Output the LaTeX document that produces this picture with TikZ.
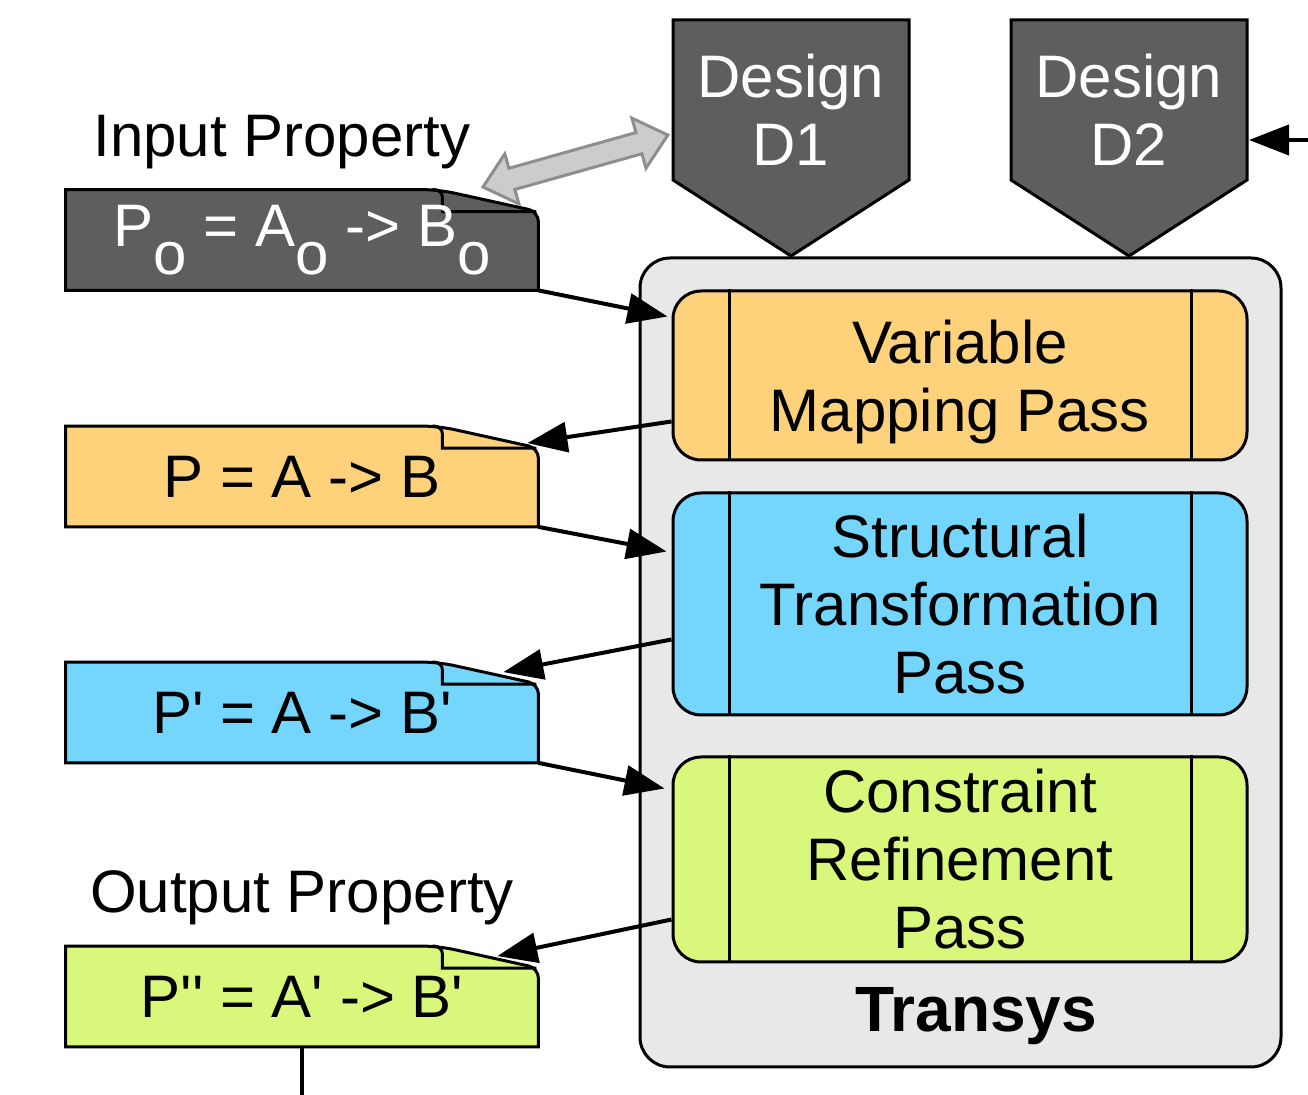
\documentclass[tikz,border=0pt]{standalone}
\usepackage{fontspec}
\setmainfont{Liberation Sans}
\usetikzlibrary{arrows.meta,calc,backgrounds}

\definecolor{docgray}{HTML}{5E5E5E}
\definecolor{passorange}{HTML}{FED17B}
\definecolor{passblue}{HTML}{74D6FD}
\definecolor{passgreen}{HTML}{D9F87B}
\definecolor{boxgray}{HTML}{E8E8E8}
\definecolor{linkgray}{HTML}{CCCCCC}
\definecolor{linkedge}{HTML}{8E8E8E}

\newcommand{\prm}{\textquotesingle}
\newcommand{\lowo}{\raisebox{-14pt}{o}}

% property note: box with a turned-down corner, drawn behind the node
\newcommand{\foldnote}[2]{%
  \begin{pgfonlayer}{background}
    \filldraw[fill=#2, line width=1.5pt] (#1.north west) [rounded corners=8pt]-- ($(#1.north east)+(-100,0)$) [rounded corners=5pt]-- ($(#1.north east)+(0,22)$) [sharp corners]-- (#1.south east) -- (#1.south west) -- cycle;
    \draw[line width=1.5pt, rounded corners=4pt] ($(#1.north east)+(-106,0)$) -- ($(#1.north east)+(-96,0)$) [sharp corners]-- ($(#1.north east)+(-96,22)$) -- ($(#1.north east)+(-2,22)$);
  \end{pgfonlayer}}

% the two inner bars of a pass box
\newcommand{\sidebars}[1]{%
  \draw[line width=1.5pt] ($(#1.north west)+(58,0)$) -- ($(#1.south west)+(58,0)$)
                          ($(#1.north east)+(-57,0)$) -- ($(#1.south east)+(-57,0)$);}

\tikzset{
  big/.style={font=\fontsize{30}{34}\selectfont},
  note/.style={big, minimum width=236pt, minimum height=50pt, inner sep=0pt},
  pass/.style={big, draw, line width=1.5pt, rounded corners=14pt, minimum width=287pt, inner sep=0pt, align=center},
  design/.style={fill=docgray, draw=black, line width=1.5pt},
  link/.style={line width=2pt, -{Triangle[length=20pt,width=15pt]}},
}

\begin{document}
\begin{tikzpicture}[x=0.5pt,y=-0.5pt]
\useasboundingbox (0,0) rectangle (1308,1095);

% Transys box
\node[draw, fill=boxgray, line width=1.5pt, rounded corners=15pt, minimum width=320.5pt, minimum height=404.5pt] (transys) at (960.5,662.5) {};
\node[anchor=base, font=\fontsize{32}{34}\selectfont\bfseries] (translabel) at (976,1032) {Transys};

% passes
\node[pass, fill=passorange, minimum height=84.5pt] (varmap) at (960,375.5) {Variable\\\raisebox{0pt}[\height][0pt]{Mapping Pass}};
\sidebars{varmap}
\node[pass, fill=passblue, minimum height=111pt] (struct) at (960,604) {Structural\\Transformation\\Pass};
\sidebars{struct}
\node[pass, fill=passgreen, minimum height=102.5pt] (constr) at (960,859.5) {Constraint\\Refinement\\Pass};
\sidebars{constr}

% designs
\draw[design] (673,20) -- (909,20) -- (909,180) -- (791,256) -- (673,180) -- cycle;
\node[big, text=white, align=center] (d1) at (791,110) {Design\\D1};
\draw[design] (1011,20) -- (1247,20) -- (1247,180) -- (1129,256) -- (1011,180) -- cycle;
\node[big, text=white, align=center] (d2) at (1129,110) {Design\\D2};
\coordinate (d2edge) at (1249,140);
\coordinate (d2feed) at (1308,140);
\draw[link] (d2feed) -- (d2edge);

% properties
\node[big, anchor=base] (inlabel) at (282,157) {Input Property};
\node[note, text=white] (inprop) at (302,240) {P\lowo{} = A\lowo{} -> B\lowo};
\foldnote{inprop}{docgray}
\node[note] (pdoc) at (302,476.5) {P = A -> B};
\foldnote{pdoc}{passorange}
\node[note] (pprime) at (302,712.5) {P\prm{} = A -> B\prm};
\foldnote{pprime}{passblue}
\node[big, anchor=base] (outlabel) at (302,913) {Output Property};
\node[note] (pdprime) at (302,996.5) {P\prm\prm{} = A\prm{} -> B\prm};
\foldnote{pdprime}{passgreen}

% input property <-> design
\coordinate (inlink) at (483,187);
\coordinate (d1link) at (668,135);
\begin{scope}[shift={(inlink)}, rotate=15.7]
  \filldraw[fill=linkgray, draw=linkedge, line width=1.5pt] (0,0) -- (30,26) -- (30,11) -- (162,11) -- (162,26) -- (192,0)
    -- (162,-26) -- (162,-11) -- (30,-11) -- (30,-26) -- cycle;
\end{scope}

% pass chain
\draw[link] (inprop.south east) -- ($(varmap.north west)+(-4,27)$);
\draw[link] ($(varmap.south west)+(0,-40)$) -- ($(pdoc.north east)+(-11,17)$);
\draw[link] (pdoc.south east) -- ($(struct.north west)+(-5,60)$);
\draw[link] ($(struct.south west)+(0,-77)$) -- ($(pprime.north east)+(-35,10)$);
\draw[link] (pprime.south east) -- ($(constr.north west)+(-7,33)$);
\draw[link] ($(constr.south west)+(0,-44)$) -- ($(pdprime.north east)+(-41,10)$);
\coordinate (outlink) at ($(pdprime.south)+(0,50)$);
\draw[line width=2pt] (pdprime.south) -- (outlink);
\end{tikzpicture}
\end{document}
